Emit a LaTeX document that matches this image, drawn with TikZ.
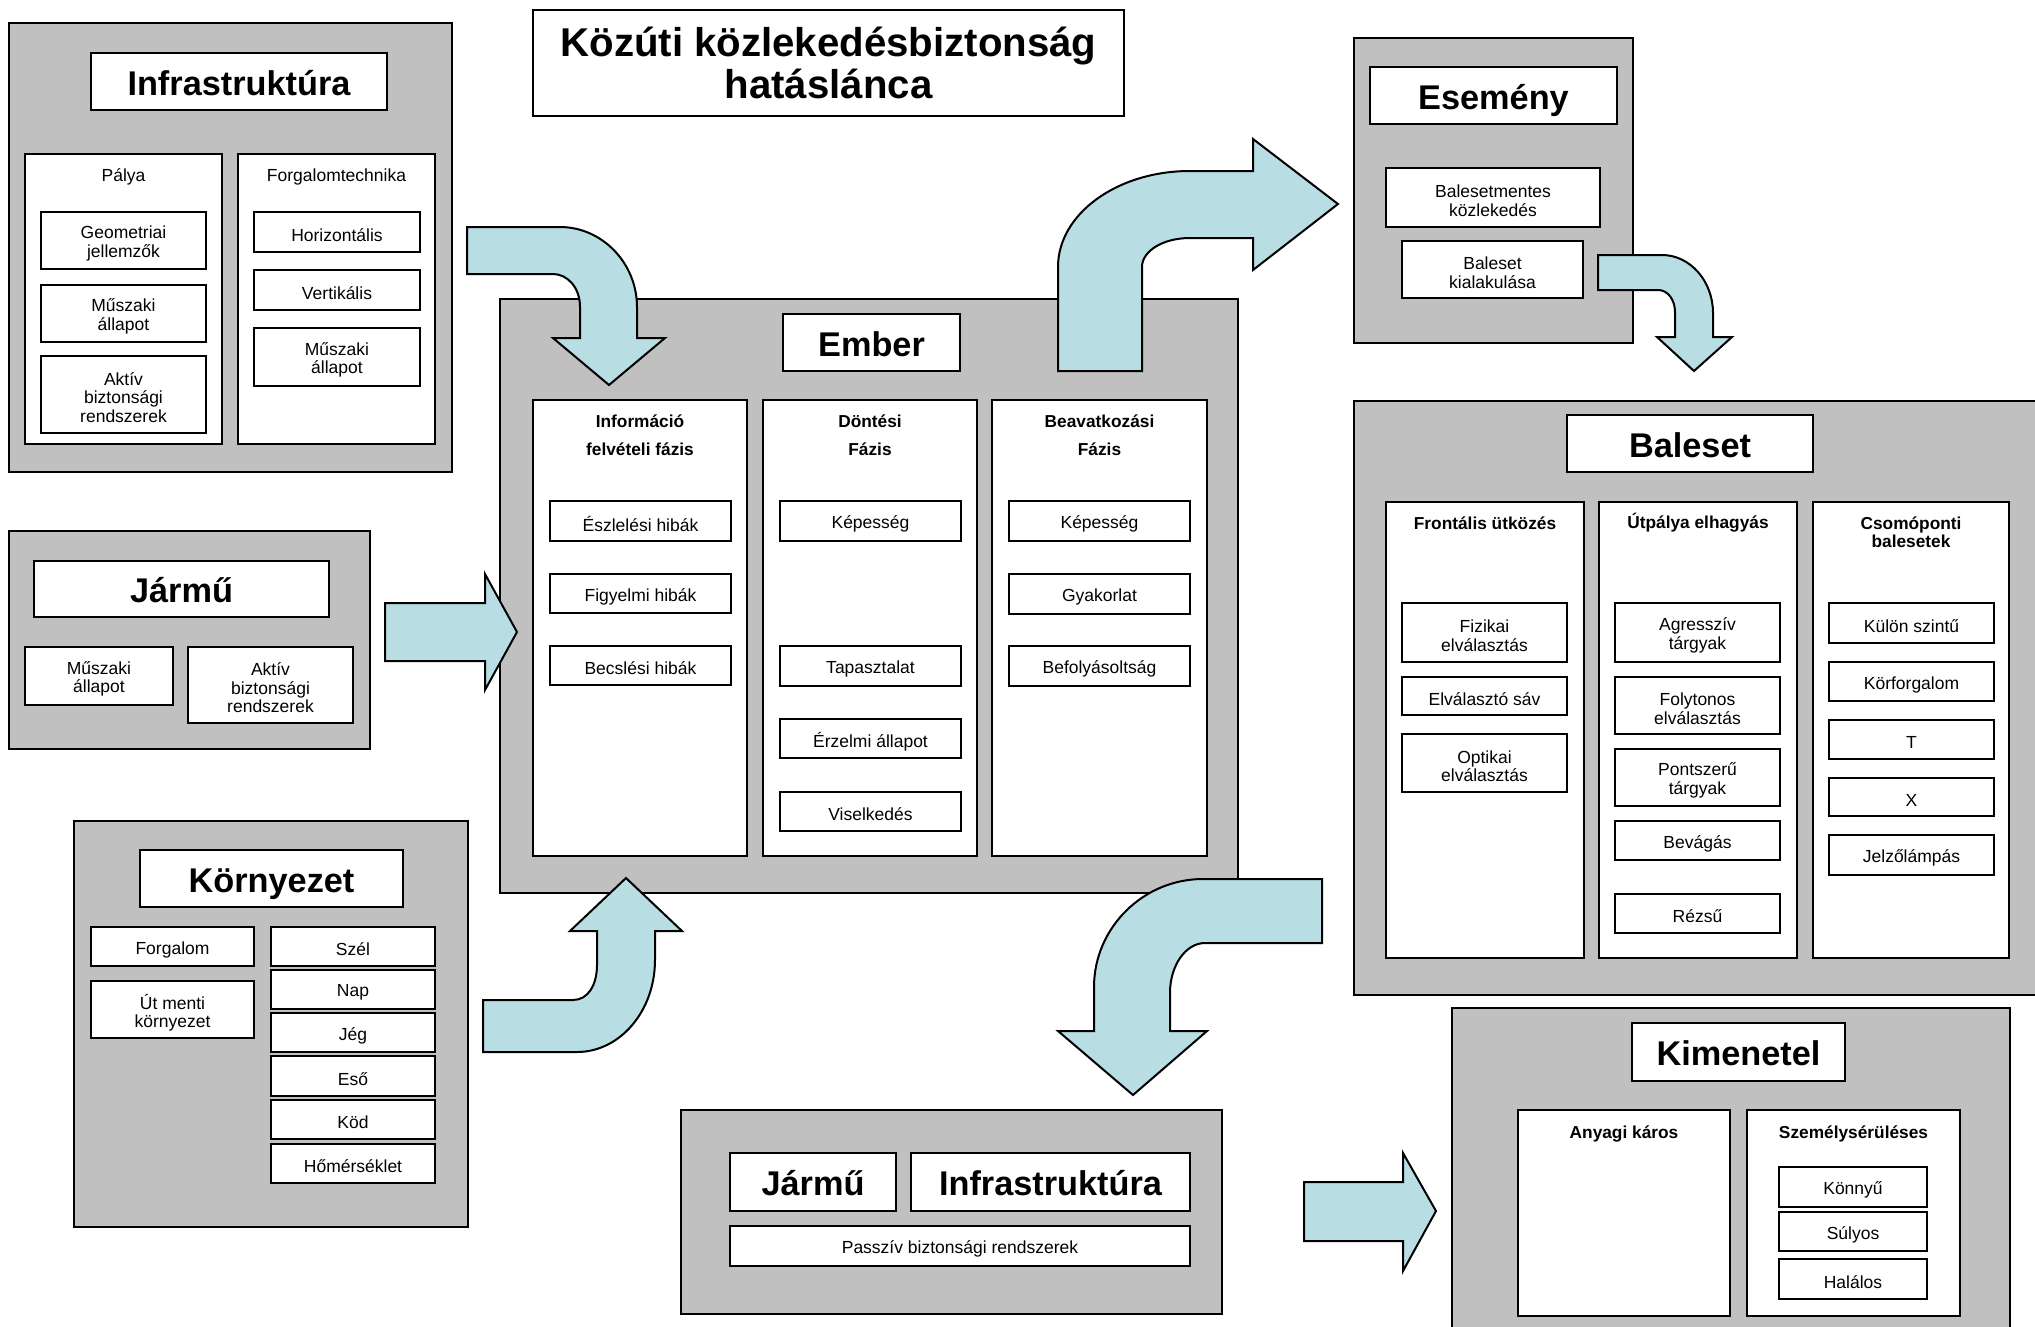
\documentclass[tikz,border=0pt]{standalone}
\usepackage{fontspec}
\setmainfont{Liberation Sans}
\definecolor{boxgray}{RGB}{192,192,192}
\definecolor{arrowblue}{RGB}{184,221,227}
\newcommand\fsmall{\fontsize{17.5}{18.5}\selectfont}
\newcommand\fhead{\fontsize{34.3}{36}\selectfont\bfseries}
\newcommand\ftitle{\fontsize{40.2}{41.5}\selectfont\bfseries}
\newcommand\flab{\fontsize{17.3}{18.5}\selectfont\bfseries}
\newcommand\flabwide{\fontsize{17.3}{28.5}\selectfont\bfseries}
% box node (named) plus its text node (named <name>-t)
\newcommand{\mkbox}[7]{%
  \node[#2, minimum width={(#5-#3)*1pt}, minimum height={(#6-#4)*1pt}] (#1) at ({(#3+#5)/2},{(#4+#6)/2}) {};
  \node[#2txt] (#1-t) at (#1.center) {#7};}
\tikzset{
  outerbox/.style={draw=black, fill=boxgray, line width=2.5pt, inner sep=0pt, outer sep=0pt},
  outerboxtxt/.style={inner sep=0pt},
  whitebox/.style={draw=black, fill=white, line width=2.2pt, inner sep=0pt, outer sep=0pt},
  whiteboxtxt/.style={inner sep=0pt, align=center, font=\fsmall, yshift=-3pt},
  headbox/.style={whitebox},
  headboxtxt/.style={inner sep=0pt, font=\fhead, text height=24.6pt, text depth=0pt, yshift=-1.5pt},
  titlebox/.style={whitebox},
  titleboxtxt/.style={inner sep=0pt, align=center, font=\ftitle},
  panel/.style={whitebox},
  paneltxt/.style={inner sep=0pt},
  plabel/.style={inner sep=0pt, align=center, font=\flab},
  plabelwide/.style={inner sep=0pt, align=center, font=\flabwide},
  plabelreg/.style={inner sep=0pt, align=center, font=\fsmall},
  blockarrow/.style={draw=black, fill=arrowblue, line width=2pt, line join=miter},
}
\begin{document}
\begin{tikzpicture}[x=1pt,y=-1pt]
\useasboundingbox (0,0) rectangle (2035,1326);
\clip (0,0) rectangle (2035,1326);
\fill[white] (0,0) rectangle (2035,1326);

% Title
\mkbox{title}{titlebox}{533}{10}{1124}{116} {Közúti közlekedésbiztonság\\hatáslánca};

% Infrastruktura
\mkbox{infra}{outerbox}{9}{23}{452}{472} {};
\mkbox{infrahead}{headbox}{91}{53}{387}{110} {Infrastruktúra};
\mkbox{palya}{panel}{25}{154}{222}{444} {};
\node[plabelreg] (palyalab) at (123.5,176.5) {Pálya};
\mkbox{geom}{whitebox}{41}{212}{206}{269} {Geometriai\\jellemzők};
\mkbox{muszak1}{whitebox}{41}{285}{206}{342} {Műszaki\\állapot};
\mkbox{aktiv1}{whitebox}{41}{356}{206}{433} {Aktív\\biztonsági\\rendszerek};
\mkbox{forg}{panel}{238}{154}{435}{444} {};
\node[plabelreg] (forglab) at (336.5,176.5) {Forgalomtechnika};
\mkbox{horiz}{whitebox}{254}{212}{420}{252} {Horizontális};
\mkbox{vert}{whitebox}{254}{270}{420}{310} {Vertikális};
\mkbox{muszak2}{whitebox}{254}{328}{420}{386} {Műszaki\\állapot};

% Jarmu
\mkbox{jarmu}{outerbox}{9}{531}{370}{749} {};
\mkbox{jarmuhead}{headbox}{34}{561}{329}{617} {Jármű};
\mkbox{muszak3}{whitebox}{25}{647}{173}{705} {Műszaki\\állapot};
\mkbox{aktiv2}{whitebox}{188}{647}{353}{723} {Aktív\\biztonsági\\rendszerek};

% Kornyezet
\mkbox{korny}{outerbox}{74}{821}{468}{1227} {};
\mkbox{kornyhead}{headbox}{140}{850}{403}{907} {Környezet};
\mkbox{forgalom}{whitebox}{91}{927}{254}{966} {Forgalom};
\mkbox{utmenti}{whitebox}{91}{981}{254}{1038} {Út menti\\környezet};
\mkbox{szel}{whitebox}{271}{927}{435}{966} {Szél};
\mkbox{nap}{whitebox}{271}{970}{435}{1009} {Nap};
\mkbox{jeg}{whitebox}{271}{1013}{435}{1052} {Jég};
\mkbox{eso}{whitebox}{271}{1056}{435}{1096} {Eső};
\mkbox{kod}{whitebox}{271}{1100}{435}{1139} {Köd};
\mkbox{homers}{whitebox}{271}{1144}{435}{1183} {Hőmérséklet};

% Ember
\mkbox{ember}{outerbox}{500}{299}{1238}{893} {};
\mkbox{emberhead}{headbox}{783}{314}{960}{371} {Ember};
\mkbox{info}{panel}{533}{400}{747}{856} {};
\node[plabelwide] (infolab) at (640,435) {Információ\\felvételi fázis};
\mkbox{eszl}{whitebox}{550}{501}{731}{541} {Észlelési hibák};
\mkbox{figy}{whitebox}{550}{574}{731}{613} {Figyelmi hibák};
\mkbox{becsl}{whitebox}{550}{646}{731}{685} {Becslési hibák};
\mkbox{dont}{panel}{763}{400}{977}{856} {};
\node[plabelwide] (dontlab) at (870,435) {Döntési\\Fázis};
\mkbox{kep1}{whitebox}{780}{501}{961}{541} {Képesség};
\mkbox{tap}{whitebox}{780}{646}{961}{686} {Tapasztalat};
\mkbox{erz}{whitebox}{780}{719}{961}{758} {Érzelmi állapot};
\mkbox{visel}{whitebox}{780}{792}{961}{831} {Viselkedés};
\mkbox{beav}{panel}{992}{400}{1207}{856} {};
\node[plabelwide] (beavlab) at (1099.5,435) {Beavatkozási\\Fázis};
\mkbox{kep2}{whitebox}{1009}{501}{1190}{541} {Képesség};
\mkbox{gyak}{whitebox}{1009}{574}{1190}{614} {Gyakorlat};
\mkbox{befoly}{whitebox}{1009}{646}{1190}{686} {Befolyásoltság};

% Esemeny
\mkbox{esemeny}{outerbox}{1354}{38}{1633}{343} {};
\mkbox{esemenyhead}{headbox}{1370}{67}{1617}{124} {Esemény};
\mkbox{bmentes}{whitebox}{1386}{168}{1600}{227} {Balesetmentes\\közlekedés};
\mkbox{bkial}{whitebox}{1402}{241}{1583}{298} {Baleset\\kialakulása};

% Baleset
\mkbox{baleset}{outerbox}{1354}{401}{2045}{995} {};
\mkbox{balesethead}{headbox}{1567}{415}{1813}{472} {Baleset};
\mkbox{front}{panel}{1386}{502}{1584}{958} {};
\node[plabel] (frontlab) at (1485,523) {Frontális ütközés};
\mkbox{fiz}{whitebox}{1402}{603}{1567}{662} {Fizikai\\elválasztás};
\mkbox{elval}{whitebox}{1402}{677}{1567}{715} {Elválasztó sáv};
\mkbox{opt}{whitebox}{1402}{734}{1567}{792} {Optikai\\elválasztás};
\mkbox{utp}{panel}{1599}{502}{1797}{958} {};
\node[plabel] (utplab) at (1698,523) {Útpálya elhagyás};
\mkbox{agr}{whitebox}{1615}{603}{1780}{662} {Agresszív\\tárgyak};
\mkbox{foly}{whitebox}{1615}{677}{1780}{734} {Folytonos\\elválasztás};
\mkbox{pont}{whitebox}{1615}{749}{1780}{806} {Pontszerű\\tárgyak};
\mkbox{bev}{whitebox}{1615}{821}{1780}{860} {Bevágás};
\mkbox{rez}{whitebox}{1615}{894}{1780}{933} {Rézsű};
\mkbox{csom}{panel}{1813}{502}{2009}{958} {};
\node[plabel] (csomlab) at (1911,532) {Csomóponti\\balesetek};
\mkbox{kulon}{whitebox}{1829}{603}{1994}{643} {Külön szintű};
\mkbox{korf}{whitebox}{1829}{662}{1994}{701} {Körforgalom};
\mkbox{tcs}{whitebox}{1829}{720}{1994}{759} {T};
\mkbox{xcs}{whitebox}{1829}{778}{1994}{816} {X};
\mkbox{jelzo}{whitebox}{1829}{835}{1994}{875} {Jelzőlámpás};

% Kimenetel
\mkbox{kimenetel}{outerbox}{1452}{1008}{2010}{1345} {};
\mkbox{kimhead}{headbox}{1632}{1023}{1845}{1081} {Kimenetel};
\mkbox{anyagi}{panel}{1518}{1110}{1730}{1316} {};
\node[plabel] (anyagilab) at (1624,1133.5) {Anyagi káros};
\mkbox{szemely}{panel}{1747}{1110}{1960}{1316} {};
\node[plabel] (szemelylab) at (1853.5,1133.5) {Személysérüléses};
\mkbox{konnyu}{whitebox}{1779}{1167}{1927}{1207} {Könnyű};
\mkbox{sulyos}{whitebox}{1779}{1212}{1927}{1251} {Súlyos};
\mkbox{halalos}{whitebox}{1779}{1259}{1927}{1299} {Halálos};

% Bottom box
\mkbox{bottom}{outerbox}{681}{1110}{1222}{1314} {};
\mkbox{bjarmu}{headbox}{730}{1153}{896}{1211} {Jármű};
\mkbox{binfra}{headbox}{911}{1153}{1190}{1211} {Infrastruktúra};
\mkbox{passziv}{whitebox}{730}{1226}{1190}{1266} {Passzív biztonsági rendszerek};

% Block arrows
% Infrastruktura -> Ember
\draw[blockarrow] (467,227) -- (560,227) .. controls (602,227) and (637,263) .. (637,307)
  -- (637,338) -- (665,338) -- (609,385) -- (553,338) -- (580,338) -- (580,307)
  .. controls (580,287) and (567,274) .. (553,274) -- (467,274) -- cycle;
% Jarmu -> Ember
\draw[blockarrow] (385,603) -- (485,603) -- (485,574) -- (517,632) -- (485,690) -- (485,661) -- (385,661) -- cycle;
% Kornyezet -> Ember
\draw[blockarrow] (483,1000) -- (573,1000) .. controls (588,1000) and (597,985) .. (597,965)
  -- (597,931) -- (570,931) -- (626,878) -- (682,931) -- (655,931) -- (655,960)
  .. controls (655,1011) and (620,1052) .. (577,1052) -- (483,1052) -- cycle;
% Ember -> Esemeny
\draw[blockarrow] (1058,371) -- (1058,267) .. controls (1058,214) and (1117,171) .. (1190,171)
  -- (1253,171) -- (1253,139) -- (1338,204) -- (1253,270) -- (1253,238) -- (1190,238)
  .. controls (1163,238) and (1142,251) .. (1142,267) -- (1142,371) -- cycle;
% Esemeny -> Baleset
\draw[blockarrow] (1598,255) -- (1662,255) .. controls (1690,255) and (1713,281) .. (1713,313)
  -- (1713,337) -- (1732,337) -- (1694,371) -- (1657,337) -- (1675,337) -- (1675,312)
  .. controls (1675,300) and (1668,290) .. (1658,290) -- (1598,290) -- cycle;
% Baleset -> Jarmu/Infrastruktura
\draw[blockarrow] (1322,879) -- (1322,943) -- (1205,943) .. controls (1186,943) and (1170,965) .. (1170,993)
  -- (1170,1031) -- (1207,1031) -- (1133,1095) -- (1058,1031) -- (1094,1031) -- (1094,987)
  .. controls (1094,928) and (1143,879) .. (1203,879) -- cycle;
% Jarmu/Infrastruktura -> Kimenetel
\draw[blockarrow] (1304,1182) -- (1403,1182) -- (1403,1153) -- (1436,1211) -- (1403,1271) -- (1403,1241) -- (1304,1241) -- cycle;
\end{tikzpicture}
\end{document}
